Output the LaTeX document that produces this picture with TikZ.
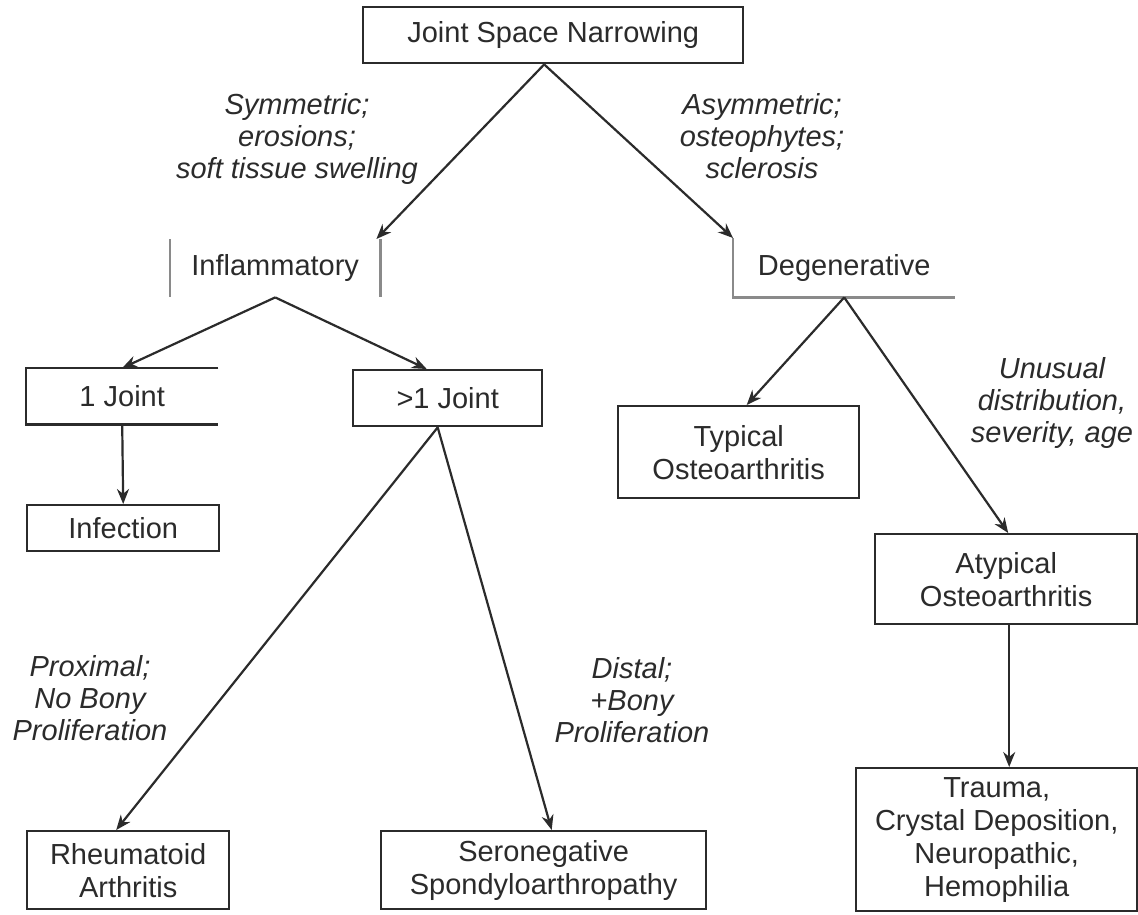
\documentclass[tikz,border=0pt]{standalone}
\usepackage{fontspec}
\setmainfont{Liberation Sans}
\usetikzlibrary{arrows.meta}
\definecolor{ink}{HTML}{2B2B2B}
\definecolor{faint}{HTML}{8A8A8A}
\begin{document}
\begin{tikzpicture}[x=1pt,y=-1pt,
  every node/.style={font=\fontsize{29pt}{33pt}\selectfont, text=ink, inner sep=0pt, align=center},
  bx/.style={draw=ink, line width=2.4pt, anchor=north west, minimum width=#1},
  lbl/.style={font=\fontsize{29pt}{32pt}\selectfont\itshape},
  conn/.style={draw=ink, line width=2.2pt, -{Stealth[length=15pt,width=12pt]}},
  edge/.style={draw=ink, line width=2.4pt},
  faintedge/.style={draw=faint, line width=2.2pt}]
\useasboundingbox (0,0) rectangle (1138,914);
\fill[white] (0,0) rectangle (1138,914);

% nodes
\node[bx=380pt, minimum height=56pt] (top) at (362,6) {Joint Space Narrowing};
\node[anchor=north west, minimum width=210pt, minimum height=58pt] (infl) at (170,239) {Inflammatory};
\node[anchor=north west, minimum width=222pt, minimum height=59pt] (deg) at (733,238) {Degenerative};
\node[anchor=north west, minimum width=192pt, minimum height=56pt] (j1) at (26,368) {1 Joint};
\node[bx=189pt, minimum height=56pt] (j2) at (352,369) {>1 Joint};
\node[bx=192pt, minimum height=46pt] (inf) at (26,504) {Infection};
\node[bx=241pt, minimum height=92pt] (typ) at (617,405) {Typical\\Osteoarthritis};
\node[bx=262pt, minimum height=90pt] (atyp) at (874,533) {Atypical\\Osteoarthritis};
\node[bx=281pt, minimum height=143pt] (trauma) at (855,767) {Trauma,\\Crystal Deposition,\\Neuropathic,\\Hemophilia};
\node[bx=202pt, minimum height=78pt] (ra) at (26,830) {Rheumatoid\\Arthritis};
\node[bx=325pt, minimum height=78pt] (sero) at (380,830) {Seronegative\\Spondyloarthropathy};

% partial borders
\draw[faintedge] (infl.north west) -- (infl.south west);
\draw[faintedge] (infl.north east) -- (infl.south east);
\draw[faintedge] (deg.north west) -- (deg.south west) -- (deg.south east);
\draw[edge] (j1.north east) -- (j1.north west) -- (j1.south west) -- (j1.south east);

% labels
\node[lbl] (l1) at (297,139) {Symmetric;\\erosions;\\soft tissue swelling};
\node[lbl] (l2) at (762,136) {Asymmetric;\\osteophytes;\\sclerosis};
\node[lbl] (l3) at (1052,403) {Unusual\\distribution,\\severity, age};
\node[lbl] (l4) at (90,698) {Proximal;\\No Bony\\Proliferation};
\node[lbl] (l5) at (632,700) {Distal;\\+Bony\\Proliferation};

% connectors
\draw[conn] ([xshift=-9pt]top.south) -- ([xshift=-4pt]infl.north east);
\draw[conn] ([xshift=-9pt]top.south) -- (deg.north west);
\draw[conn] (infl.south) -- (j1.north);
\draw[conn] (infl.south) -- ([xshift=-21pt]j2.north);
\draw[conn] (j1.south) -- (inf.north);
\draw[conn] ([xshift=-10pt]j2.south) -- ([xshift=-12pt]ra.north);
\draw[conn] ([xshift=-10pt]j2.south) -- ([xshift=8pt]sero.north);
\draw[conn] (deg.south) -- ([xshift=8pt]typ.north);
\draw[conn] (deg.south) -- ([xshift=2pt]atyp.north);
\draw[conn] ([xshift=3pt]atyp.south) -- ([xshift=3pt]atyp.south |- trauma.north);
\end{tikzpicture}
\end{document}
